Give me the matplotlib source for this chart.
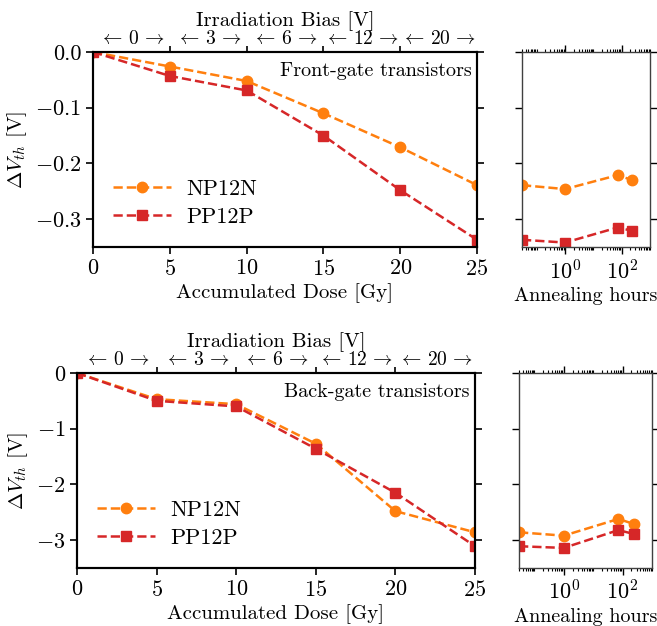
import numpy as np
import matplotlib
matplotlib.use("Agg")
import matplotlib.pyplot as plt
from matplotlib.ticker import LogLocator, NullFormatter, FixedLocator

plt.rcParams["font.family"] = "serif"
plt.rcParams["font.serif"] = ["cmr10"]
plt.rcParams["mathtext.fontset"] = "cm"
plt.rcParams["axes.formatter.use_mathtext"] = True
plt.rcParams["font.size"] = 15
plt.rcParams["xtick.labelsize"] = 16
plt.rcParams["ytick.labelsize"] = 16

# dose steps and the bias applied during each step
dose = [0, 5, 10, 15, 20, 25]
bias_labels = ["0", "3", "6", "12", "20"]
anneal_hours = [0.03, 1, 72, 240]

# front-gate threshold shift [V]
front_np12n = [0.0, -0.026, -0.052, -0.110, -0.171, -0.239]
front_pp12p = [0.0, -0.043, -0.069, -0.150, -0.248, -0.337]
front_np12n_anneal = [-0.239, -0.246, -0.221, -0.230]
front_pp12p_anneal = [-0.337, -0.342, -0.315, -0.321]

# back-gate threshold shift [V]
back_np12n = [0.0, -0.47, -0.56, -1.27, -2.48, -2.86]
back_pp12p = [0.0, -0.50, -0.60, -1.36, -2.15, -3.11]
back_np12n_anneal = [-2.86, -2.92, -2.62, -2.71]
back_pp12p_anneal = [-3.11, -3.14, -2.82, -2.89]

c_np = "tab:orange"
c_pp = "tab:red"
style = dict(ls="--", lw=1.8, ms=7.5)

fig = plt.figure(figsize=(6.57, 6.26), dpi=100)


def draw_row(rect_main, rect_ann, np_vals, pp_vals, np_ann, pp_ann,
             ylim, yticks, ytick_fmt, title):
    ax = fig.add_axes(rect_main)
    ax.plot(dose, np_vals, marker="o", color=c_np, label="NP12N", **style)
    ax.plot(dose, pp_vals, marker="s", color=c_pp, label="PP12P", **style)
    ax.set_xlim(0, 25)
    ax.set_ylim(*ylim)
    ax.set_xticks(dose)
    ax.set_yticks(yticks)
    ax.set_yticklabels([ytick_fmt(v) for v in yticks])
    ax.tick_params(direction="out", right=True, length=5, width=1.2)
    for s in ax.spines.values():
        s.set_linewidth(1.5)
    ax.set_xlabel("Accumulated Dose [Gy]", labelpad=3)
    ax.set_ylabel(r"$\Delta V_{th}$ [V]", labelpad=4)
    ax.text(0.985, 0.95, title, transform=ax.transAxes, ha="right", va="top",
            fontsize=14.5)
    ax.legend(loc="lower left", frameon=False, bbox_to_anchor=(0.0, 0.0),
              handlelength=2.6, fontsize=16, labelspacing=0.4, handletextpad=0.7)

    top = ax.twiny()
    top.set_xlim(0, 25)
    top.xaxis.set_major_locator(FixedLocator([5, 10, 15, 20]))
    top.set_xticklabels([])
    top.xaxis.set_minor_locator(FixedLocator([2.5, 7.5, 12.5, 17.5, 22.5]))
    top.set_xticklabels([r"$\leftarrow\," + b + r"\,\rightarrow$" for b in bias_labels],
                        minor=True, fontsize=14)
    top.tick_params(which="major", direction="out", length=4, width=1.2)
    top.tick_params(which="minor", length=0, pad=3)
    top.set_xlabel("Irradiation Bias [V]", labelpad=3)
    for s in top.spines.values():
        s.set_linewidth(1.5)

    axa = fig.add_axes(rect_ann)
    axa.plot(anneal_hours, np_ann, marker="o", color=c_np, **style)
    axa.plot(anneal_hours, pp_ann, marker="s", color=c_pp, **style)
    axa.set_xscale("log")
    axa.set_xlim(0.03, 1000)
    axa.set_ylim(*ylim)
    axa.set_xticks([1, 100])
    axa.xaxis.set_minor_locator(LogLocator(base=10, subs=np.arange(1, 10), numticks=30))
    axa.xaxis.set_minor_formatter(NullFormatter())
    axa.set_yticks(yticks)
    axa.set_yticklabels([])
    axa.tick_params(which="both", direction="out", top=True, right=True)
    axa.tick_params(which="major", length=5, width=1.0)
    axa.tick_params(which="minor", length=2.5, width=0.8)
    for s in axa.spines.values():
        s.set_linewidth(1.0)
        s.set_color("0.25")
    axa.set_xlabel("Annealing hours", labelpad=3, fontsize=14.5)


draw_row([0.1416, 0.6054, 0.5845, 0.3115], [0.7945, 0.6054, 0.1948, 0.3115],
         front_np12n, front_pp12p, front_np12n_anneal, front_pp12p_anneal,
         (-0.35, 0.0), [0.0, -0.1, -0.2, -0.3],
         lambda v: "%.1f" % v if v == 0 else r"$-$%.1f" % abs(v),
         "Front-gate transistors")

draw_row([0.1172, 0.0927, 0.6058, 0.3115], [0.790, 0.0927, 0.2024, 0.3115],
         back_np12n, back_pp12p, back_np12n_anneal, back_pp12p_anneal,
         (-3.5, 0.0), [0, -1, -2, -3],
         lambda v: "0" if v == 0 else r"$-$%d" % abs(v),
         "Back-gate transistors")

fig.savefig("out.png", dpi=100)
